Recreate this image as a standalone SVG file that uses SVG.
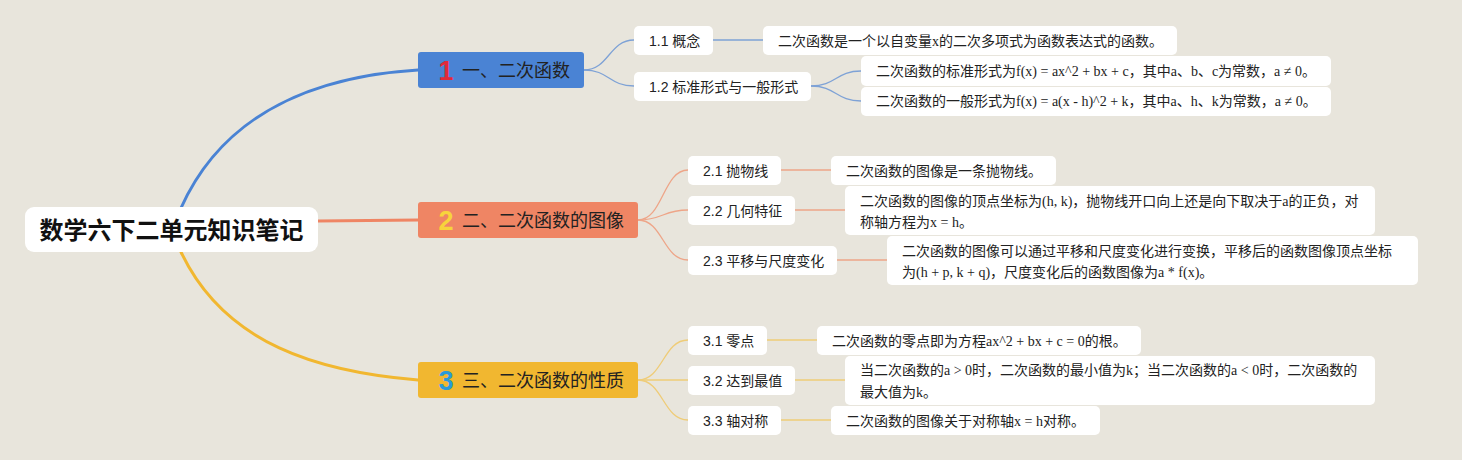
<svg xmlns="http://www.w3.org/2000/svg" width="1462" height="460" viewBox="0 0 1462 460">
<defs>
<style>
.bg{fill:#e8e5dc}
.root rect{fill:#ffffff}
.root text{font-family:"Noto Sans CJK SC","Liberation Sans",sans-serif;font-weight:bold;font-size:24px;fill:#111}
.br text.lab{font-family:"Noto Sans CJK SC","Liberation Sans",sans-serif;font-size:18px;fill:#222}
.br text.num{font-family:"Liberation Sans","Noto Sans CJK SC",sans-serif;font-weight:bold;font-size:27px}
.ch rect{fill:#ffffff}
.ch text{font-family:"Liberation Sans","Noto Sans CJK SC",sans-serif;font-size:14px;fill:#222}
.lf rect{fill:#ffffff}
.lf text{font-family:"Liberation Serif","Noto Sans CJK SC",serif;font-size:14px;fill:#222}
.main{fill:none;stroke-width:3;stroke-linecap:round}
.sub{fill:none;stroke-width:1.3}
.c1{stroke:#4a83d4}.c2{stroke:#ef8564}.c3{stroke:#f1b730}
.s1{stroke:#7ea2d6}.s2{stroke:#eea588}.s3{stroke:#efcc77}
</style>
</defs>
<rect class="bg" x="0" y="0" width="1462" height="460"/>
<g id="connectors">
<path class="main c1" d="M181,208 C225,110 320,76 418,70"/>
<path class="main c2" d="M318,221 L418,220"/>
<path class="main c3" d="M181,252 C225,345 320,372 418,380"/>
<path class="sub s1" d="M584,70 C609,70 609,40 634,40"/>
<path class="sub s1" d="M584,70 C609,70 609,86 634,86"/>
<path class="sub s1" d="M713,40 L763,40"/>
<path class="sub s1" d="M811,86 C836,86 836,71 861,71"/>
<path class="sub s1" d="M811,86 C836,86 836,101 861,101"/>
<path class="sub s2" d="M638,220 C663,220 663,170 688,170"/>
<path class="sub s2" d="M638,220 C663,220 663,210 688,210"/>
<path class="sub s2" d="M638,220 C663,220 663,260 688,260"/>
<path class="sub s2" d="M781,170 L831,170"/>
<path class="sub s2" d="M795,210 L845,210"/>
<path class="sub s2" d="M837,260 L887,260"/>
<path class="sub s3" d="M638,380 C663,380 663,340 688,340"/>
<path class="sub s3" d="M638,380 C663,380 663,380 688,380"/>
<path class="sub s3" d="M638,380 C663,380 663,420 688,420"/>
<path class="sub s3" d="M767,340 L817,340"/>
<path class="sub s3" d="M795,380 L845,380"/>
<path class="sub s3" d="M781,420 L831,420"/>
</g>
<g id="root" class="root">
<rect x="25" y="207" width="293" height="45" rx="9"/>
<text x="171.5" y="238.5" text-anchor="middle">数学六下二单元知识笔记</text>
</g>
<g id="b1" class="br">
<rect x="418" y="52" width="166" height="36" rx="3" fill="#4a83d4"/>
<text class="num" x="446" y="80" text-anchor="middle" fill="#e02a3a">1</text>
<text class="lab" x="462" y="77">一、二次函数</text>
</g>
<g id="b2" class="br">
<rect x="418" y="202" width="220" height="36" rx="3" fill="#ef8564"/>
<text class="num" x="446" y="230" text-anchor="middle" fill="#f7d33c">2</text>
<text class="lab" x="462" y="227">二、二次函数的图像</text>
</g>
<g id="b3" class="br">
<rect x="418" y="362" width="220" height="36" rx="3" fill="#f1b730"/>
<text class="num" x="446" y="390" text-anchor="middle" fill="#2a9ad8">3</text>
<text class="lab" x="462" y="387">三、二次函数的性质</text>
</g>
<g id="c11" class="ch"><rect x="634" y="26" width="79" height="29" rx="5"/><text x="649" y="45.5">1.1 概念</text></g>
<g id="c12" class="ch"><rect x="634" y="72" width="177" height="29" rx="5"/><text x="649" y="91.5">1.2 标准形式与一般形式</text></g>
<g id="c21" class="ch"><rect x="688" y="156" width="93" height="29" rx="5"/><text x="703" y="175.5">2.1 抛物线</text></g>
<g id="c22" class="ch"><rect x="688" y="196" width="107" height="29" rx="5"/><text x="703" y="215.5">2.2 几何特征</text></g>
<g id="c23" class="ch"><rect x="688" y="246" width="149" height="29" rx="5"/><text x="703" y="265.5">2.3 平移与尺度变化</text></g>
<g id="c31" class="ch"><rect x="688" y="326" width="79" height="29" rx="5"/><text x="703" y="345.5">3.1 零点</text></g>
<g id="c32" class="ch"><rect x="688" y="366" width="107" height="29" rx="5"/><text x="703" y="385.5">3.2 达到最值</text></g>
<g id="c33" class="ch"><rect x="688" y="406" width="93" height="29" rx="5"/><text x="703" y="425.5">3.3 轴对称</text></g>
<g id="l11" class="lf"><rect x="763" y="26" width="414" height="29" rx="5"/><text x="778" y="45.5">二次函数是一个以自变量x的二次多项式为函数表达式的函数。</text></g>
<g id="l12a" class="lf"><rect x="861" y="56" width="470" height="30" rx="5"/><text x="876" y="76">二次函数的标准形式为f(x) = ax^2 + bx + c，其中a、b、c为常数，a ≠ 0。</text></g>
<g id="l12b" class="lf"><rect x="861" y="87" width="470" height="29" rx="5"/><text x="876" y="106">二次函数的一般形式为f(x) = a(x - h)^2 + k，其中a、h、k为常数，a ≠ 0。</text></g>
<g id="l21" class="lf"><rect x="831" y="156" width="225" height="29" rx="5"/><text x="846" y="175.5">二次函数的图像是一条抛物线。</text></g>
<g id="l22" class="lf"><rect x="845" y="186" width="530" height="49" rx="5"/><text x="860" y="206">二次函数的图像的顶点坐标为(h, k)，抛物线开口向上还是向下取决于a的正负，对</text><text x="860" y="227">称轴方程为x = h。</text></g>
<g id="l23" class="lf"><rect x="887" y="236" width="531" height="49" rx="5"/><text x="902" y="256">二次函数的图像可以通过平移和尺度变化进行变换，平移后的函数图像顶点坐标</text><text x="902" y="277">为(h + p, k + q)，尺度变化后的函数图像为a * f(x)。</text></g>
<g id="l31" class="lf"><rect x="817" y="326" width="324" height="29" rx="5"/><text x="832" y="345.5">二次函数的零点即为方程ax^2 + bx + c = 0的根。</text></g>
<g id="l32" class="lf"><rect x="845" y="356" width="530" height="49" rx="5"/><text x="860" y="375">当二次函数的a &gt; 0时，二次函数的最小值为k；当二次函数的a &lt; 0时，二次函数的</text><text x="860" y="397">最大值为k。</text></g>
<g id="l33" class="lf"><rect x="831" y="406" width="269" height="29" rx="5"/><text x="846" y="425.5">二次函数的图像关于对称轴x = h对称。</text></g>
</svg>
